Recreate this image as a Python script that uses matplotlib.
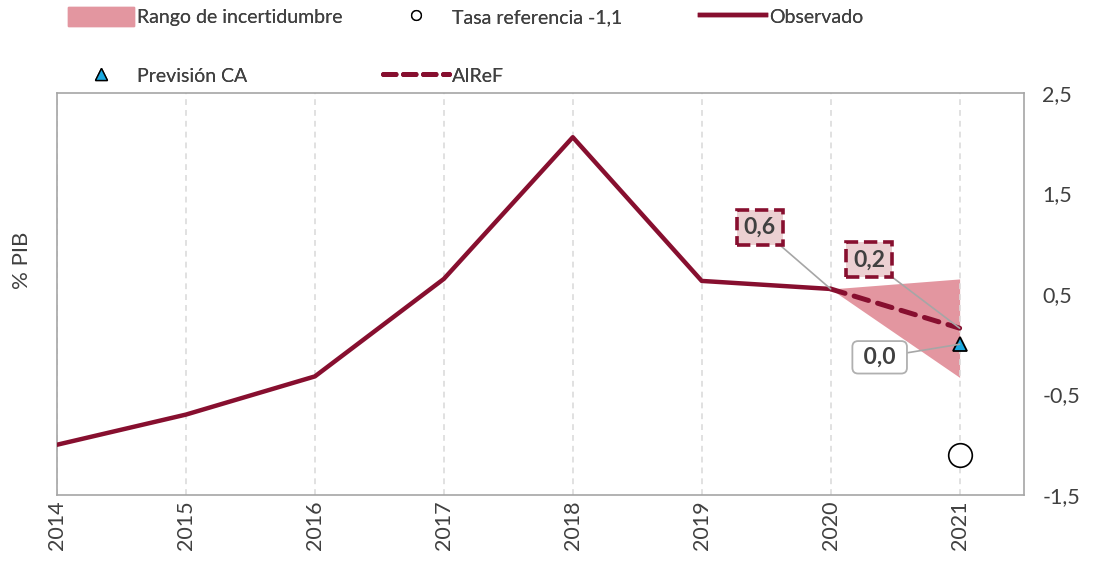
"""Saldo presupuestario: observado, previsión AIReF y rango de incertidumbre."""

import matplotlib
matplotlib.use("Agg")
import matplotlib.pyplot as plt
from matplotlib.lines import Line2D
from matplotlib.patches import Patch

plt.rcParams['font.family'] = ['Lato', 'DejaVu Sans']

# --- data -------------------------------------------------------------
years = [2014, 2015, 2016, 2017, 2018, 2019, 2020]
observado = [-1.0, -0.7, -0.32, 0.65, 2.06, 0.63, 0.55]

airef_years = [2020, 2021]
airef = [0.55, 0.16]

banda_years = [2020, 2021]
banda_low = [0.55, -0.33]
banda_high = [0.55, 0.65]

prevision_ca = 0.0
tasa_ref = -1.1
year_ref = 2021

ticks_y = [-1.5, -0.5, 0.5, 1.5, 2.5]
all_years = list(range(2014, 2022))

# --- colours ----------------------------------------------------------
RED = "#870f2f"
PINK = "#e396a0"
BOXPINK = "#ecd0d2"
BLUE = "#1aa9e0"
GREY = "#404040"

W, H = 1094, 567
fig = plt.figure(figsize=(W / 100, H / 100), dpi=100)
ax = fig.add_axes([0.0521, 0.127, 0.884, 0.709])

ax.fill_between(banda_years, banda_low, banda_high, color=PINK, lw=0, zorder=1)
ax.plot(years, observado, color=RED, lw=3.2, solid_capstyle='round', zorder=3)
ax.plot(airef_years, airef, color=RED, lw=3.6, linestyle=(0, (3, 1.9)),
        dash_capstyle='round', zorder=3)
ax.plot([year_ref], [prevision_ca], marker='^', ms=10, mfc=BLUE, mec='black',
        mew=1.3, ls='none', zorder=5)
ax.plot([year_ref], [tasa_ref], marker='o', ms=17, mfc='white', mec='black',
        mew=1.2, ls='none', zorder=5)

# labels
lab_kw = dict(fontsize=16.5, fontweight='bold', color=GREY, ha='center', va='center',
              zorder=6)
arrow = dict(arrowstyle='-', color='#a6a6a6', lw=1.2, shrinkA=0, shrinkB=0)
ax.annotate("0,6", xy=(2020, 0.55), xytext=(2019.45, 1.16),
            bbox=dict(boxstyle='square,pad=0.3', fc=BOXPINK, ec=RED, lw=2.6, ls='--'),
            arrowprops=arrow, **lab_kw)
ax.annotate("0,2", xy=(2021, 0.16), xytext=(2020.3, 0.84),
            bbox=dict(boxstyle='square,pad=0.3', fc=BOXPINK, ec=RED, lw=2.6, ls='--'),
            arrowprops=arrow, **lab_kw)
ax.annotate(" 0,0 ", xy=(2021, prevision_ca), xytext=(2020.38, -0.13),
            bbox=dict(boxstyle='round,pad=0.25,rounding_size=0.25', fc='white',
                      ec='#b0b0b0', lw=1.3),
            arrowprops=arrow, **lab_kw)

# axes
ax.set_xlim(2014, 2021.5)
ax.set_ylim(-1.5, 2.5)
ax.set_xticks(all_years)
ax.set_xticklabels([str(y) for y in all_years], rotation=90, fontsize=15.5)
ax.set_yticks(ticks_y)
ax.set_yticklabels([f"{t:.1f}".replace('.', ',') for t in ticks_y], fontsize=15.5)
ax.yaxis.tick_right()
ax.tick_params(length=0, colors=GREY)
ax.tick_params(axis='y', pad=13)
ax.tick_params(axis='x', pad=4)
ax.grid(axis='x', color='#dcdcdc', ls=(0, (3.5, 3)), lw=1.2)
for s in ax.spines.values():
    s.set_color('#a6a6a6')
    s.set_linewidth(1.2)
fig.text(22 / W, 1 - 260 / H, "% PIB", rotation=90, fontsize=16, color=GREY,
         ha='center', va='center')

# legend: three columns placed separately
leg_kw = dict(loc='upper left', frameon=False, fontsize=14, handlelength=3.4,
              handleheight=1.1, handletextpad=0.15, labelspacing=2.05,
              borderpad=0, borderaxespad=0, labelcolor=GREY)
columns = [
    (68, [Patch(color=PINK),
          Line2D([], [], marker='^', ms=8, mfc=BLUE, mec='black', ls='none')],
     ["Rango de incertidumbre", "Previsión CA"]),
    (383, [Line2D([], [], marker='o', ms=7, mfc='white', mec='black', ls='none'),
           Line2D([], [], color=RED, lw=3.6, ls=(0, (2.5, 1.5)),
                  dash_capstyle='round')],
     ["Tasa referencia -1,1", "AIReF"]),
    (700, [Line2D([], [], color=RED, lw=3.2)], ["Observado"]),
]
for x_px, hs, ls in columns:
    leg = fig.legend(hs, ls, bbox_to_anchor=(x_px / W, 1 - 7 / H), **leg_kw)
    fig.add_artist(leg)

fig.savefig("out.png", dpi=100)
